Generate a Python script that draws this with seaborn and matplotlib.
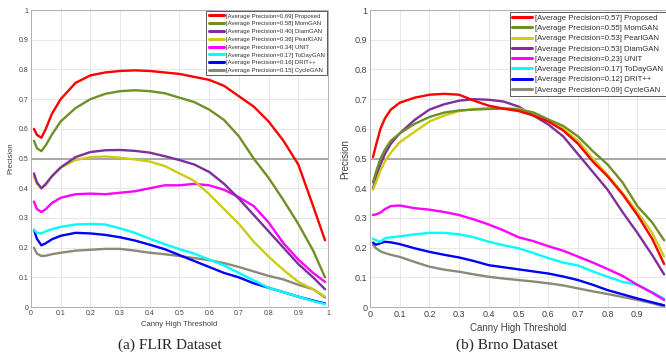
import numpy as np
import pandas as pd
import matplotlib
matplotlib.use("Agg")
import matplotlib.pyplot as plt
import seaborn as sns

# canny high threshold sample points (shared by both panels)
thresholds = [0.01, 0.02, 0.035, 0.05, 0.07, 0.1, 0.15, 0.2, 0.25, 0.3, 0.35, 0.4,
              0.45, 0.5, 0.55, 0.6, 0.65, 0.7, 0.75, 0.8, 0.85, 0.9, 0.95, 0.99]

# FLIR dataset
flir_names = ["Proposed", "MomGAN", "DiamGAN", "PearlGAN", "UNIT", "ToDayGAN", "DRIT++", "CycleGAN"]
flir_ap = [0.69, 0.58, 0.40, 0.36, 0.34, 0.17, 0.16, 0.15]
flir_proposed = [0.60, 0.58, 0.57, 0.60, 0.65, 0.70, 0.755, 0.78, 0.79, 0.795, 0.797, 0.795,
                 0.79, 0.785, 0.775, 0.765, 0.745, 0.71, 0.675, 0.625, 0.56, 0.48, 0.34, 0.225]
flir_momgan = [0.56, 0.535, 0.525, 0.545, 0.58, 0.625, 0.67, 0.70, 0.718, 0.727, 0.73, 0.727,
               0.72, 0.705, 0.69, 0.665, 0.63, 0.575, 0.50, 0.435, 0.36, 0.28, 0.19, 0.10]
flir_diamgan = [0.45, 0.42, 0.40, 0.415, 0.44, 0.47, 0.505, 0.522, 0.528, 0.529, 0.526, 0.52,
                0.508, 0.495, 0.48, 0.455, 0.415, 0.365, 0.31, 0.255, 0.20, 0.145, 0.10, 0.06]
flir_pearlgan = [0.44, 0.415, 0.40, 0.41, 0.44, 0.47, 0.495, 0.505, 0.507, 0.503, 0.497, 0.49,
                 0.475, 0.45, 0.425, 0.38, 0.33, 0.28, 0.22, 0.17, 0.125, 0.085, 0.06, 0.035]
flir_unit = [0.355, 0.33, 0.32, 0.33, 0.35, 0.368, 0.38, 0.382, 0.38, 0.385, 0.39, 0.40,
             0.41, 0.41, 0.415, 0.41, 0.395, 0.37, 0.34, 0.285, 0.215, 0.16, 0.115, 0.085]
flir_todaygan = [0.26, 0.25, 0.248, 0.255, 0.262, 0.27, 0.278, 0.28, 0.278, 0.265, 0.25, 0.23,
                 0.212, 0.195, 0.18, 0.16, 0.14, 0.115, 0.09, 0.065, 0.05, 0.035, 0.02, 0.01]
flir_drit = [0.26, 0.23, 0.208, 0.215, 0.228, 0.24, 0.25, 0.248, 0.243, 0.235, 0.224, 0.21,
             0.195, 0.175, 0.155, 0.135, 0.115, 0.10, 0.08, 0.065, 0.05, 0.035, 0.022, 0.012]
flir_cyclegan = [0.20, 0.18, 0.172, 0.173, 0.178, 0.183, 0.19, 0.193, 0.196, 0.196, 0.19, 0.183,
                 0.178, 0.172, 0.165, 0.158, 0.148, 0.135, 0.12, 0.105, 0.093, 0.075, 0.06, 0.032]

# Brno dataset
brno_names = ["Proposed", "MomGAN", "PearlGAN", "DiamGAN", "UNIT", "ToDayGAN", "DRIT++", "CycleGAN"]
brno_ap = [0.57, 0.55, 0.53, 0.53, 0.23, 0.17, 0.12, 0.09]
brno_proposed = [0.505, 0.545, 0.60, 0.635, 0.665, 0.688, 0.705, 0.715, 0.718, 0.715, 0.695, 0.678,
                 0.668, 0.66, 0.645, 0.625, 0.595, 0.55, 0.49, 0.44, 0.38, 0.31, 0.23, 0.145]
brno_momgan = [0.42, 0.455, 0.50, 0.53, 0.56, 0.585, 0.617, 0.64, 0.655, 0.662, 0.665, 0.667,
               0.668, 0.665, 0.655, 0.632, 0.61, 0.575, 0.525, 0.48, 0.42, 0.34, 0.285, 0.225]
brno_pearlgan = [0.395, 0.42, 0.46, 0.49, 0.52, 0.555, 0.59, 0.625, 0.645, 0.66, 0.667, 0.67,
                 0.67, 0.668, 0.655, 0.63, 0.60, 0.56, 0.50, 0.445, 0.385, 0.32, 0.25, 0.17]
brno_diamgan = [0.40, 0.435, 0.48, 0.515, 0.55, 0.585, 0.63, 0.665, 0.683, 0.695, 0.70, 0.698,
                0.692, 0.675, 0.645, 0.615, 0.575, 0.515, 0.455, 0.395, 0.32, 0.25, 0.175, 0.11]
brno_unit = [0.31, 0.312, 0.318, 0.33, 0.34, 0.342, 0.333, 0.328, 0.32, 0.31, 0.295, 0.278,
             0.258, 0.235, 0.222, 0.205, 0.19, 0.17, 0.15, 0.128, 0.105, 0.075, 0.048, 0.024]
brno_todaygan = [0.23, 0.225, 0.22, 0.232, 0.235, 0.238, 0.245, 0.25, 0.25, 0.245, 0.235, 0.22,
                 0.208, 0.198, 0.182, 0.165, 0.15, 0.14, 0.12, 0.102, 0.085, 0.075, 0.05, 0.028]
brno_drit = [0.217, 0.21, 0.215, 0.22, 0.218, 0.212, 0.198, 0.186, 0.176, 0.167, 0.155, 0.141,
             0.134, 0.127, 0.12, 0.113, 0.103, 0.091, 0.075, 0.057, 0.043, 0.029, 0.016, 0.006]
brno_cyclegan = [0.209, 0.198, 0.188, 0.182, 0.176, 0.169, 0.152, 0.136, 0.126, 0.119, 0.11, 0.102,
                 0.096, 0.091, 0.086, 0.08, 0.073, 0.063, 0.053, 0.044, 0.034, 0.024, 0.013, 0.002]

colors = {
    "Proposed": "#ff0000",
    "MomGAN": "#6f8f27",
    "DiamGAN": "#7e2f9e",
    "PearlGAN": "#cccc14",
    "UNIT": "#ff00ff",
    "ToDayGAN": "#00ffff",
    "DRIT++": "#0000ff",
    "CycleGAN": "#8a8a78",
}


def build_frame(names, aps, series):
    rows = []
    for name, ap, vals in zip(names, aps, series):
        label = f"[Average Precision={ap:.2f}] {name}"
        for t, v in zip(thresholds, vals):
            rows.append({"threshold": t, "precision": v, "method": label, "name": name})
    return pd.DataFrame(rows)


def draw_panel(ax, df, names, aps, fs, leg_fs, leg_sp, xticks):
    labels = [f"[Average Precision={ap:.2f}] {n}" for n, ap in zip(names, aps)]
    pal = {lab: colors[n] for lab, n in zip(labels, names)}
    ax.axhline(0.5, color="#a8a8a8", lw=1.4, zorder=1)
    sns.lineplot(data=df, x="threshold", y="precision", hue="method", hue_order=labels[::-1],
                 palette=pal, lw=1.7, ax=ax, legend=False, zorder=3)
    ax.set_xlim(0, 1)
    ax.set_ylim(0, 1)
    ax.set_xticks(xticks)
    ax.set_xticklabels([f"{t:g}" for t in xticks])
    yt = np.arange(0, 1.01, 0.1).round(1)
    ax.set_yticks(yt)
    ax.set_yticklabels([f"{t:g}" for t in yt])
    ax.grid(True, color="#e4e4e4", lw=0.6)
    ax.tick_params(direction="in", length=2, labelsize=fs, colors="#404040", pad=2)
    for s in ax.spines.values():
        s.set_color("#b0b0b0")
        s.set_linewidth(0.7)
    ax.set_xlabel("Canny High Threshold", fontsize=fs + 0.5, color="#404040", labelpad=3)
    ax.set_ylabel("Precision", fontsize=fs + 0.5, color="#404040", labelpad=3)
    handles = [plt.Line2D([], [], color=pal[lab], lw=2.2) for lab in labels]
    leg = ax.legend(handles, labels, loc="upper right", fontsize=leg_fs, frameon=True,
                    fancybox=False, edgecolor="#404040", framealpha=1,
                    handlelength=2.6, handletextpad=0.3, labelspacing=leg_sp,
                    borderpad=0.35, borderaxespad=0.2)
    leg.get_frame().set_linewidth(0.6)
    for txt in leg.get_texts():
        txt.set_color("#303030")


sns.set_style("whitegrid")
plt.rcParams["font.family"] = ["Liberation Sans", "DejaVu Sans"]

fig = plt.figure(figsize=(6.66, 3.6), dpi=100)
ax1 = fig.add_axes([0.0465, 0.147, 0.4460, 0.825])
ax2 = fig.add_axes([0.5556, 0.147, 0.4460, 0.825])

df_flir = build_frame(flir_names, flir_ap,
                      [flir_proposed, flir_momgan, flir_diamgan, flir_pearlgan,
                       flir_unit, flir_todaygan, flir_drit, flir_cyclegan])
df_brno = build_frame(brno_names, brno_ap,
                      [brno_proposed, brno_momgan, brno_pearlgan, brno_diamgan,
                       brno_unit, brno_todaygan, brno_drit, brno_cyclegan])

draw_panel(ax1, df_flir, flir_names, flir_ap, 5, 4.3, 0.44, np.arange(0, 1.01, 0.1).round(1))
draw_panel(ax2, df_brno, brno_names, brno_ap, 6.5, 5.6, 0.36, np.arange(0, 0.91, 0.1).round(1))

fig.text(0.255, 0.04, "(a) FLIR Dataset", ha="center", va="center", fontsize=11,
         family="Liberation Serif")
fig.text(0.761, 0.04, "(b) Brno Dataset", ha="center", va="center", fontsize=11,
         family="Liberation Serif")

fig.savefig("out.png", dpi=100)
